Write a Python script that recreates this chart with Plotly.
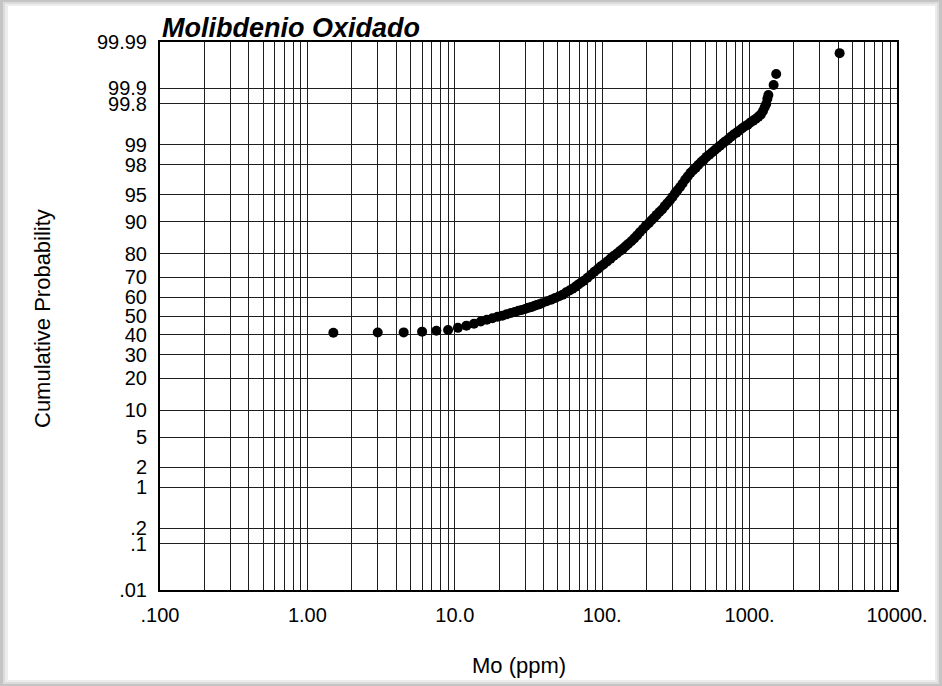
import plotly.graph_objects as go
from statistics import NormalDist

# Molybdenum (oxide) assays, ppm, and cumulative probability (%) of each value
mo_ppm = [
    1.5, 3, 4.5, 6, 7.5, 9, 10.5, 12, 13.5, 15, 16.5, 18, 19.5, 21, 22.5, 24,
    25.5, 27, 28.5, 30, 31.5, 33, 34.5, 36, 37.5, 39, 42, 45, 48, 51, 54, 57,
    60, 63, 66, 69, 72, 75, 79.5, 84, 88.5, 93, 97.5, 102, 108, 114, 120, 126,
    132, 138, 144, 150, 157.5, 165, 172.5, 180, 189, 198, 207, 216, 225, 234,
    244.5, 255, 265.5, 276, 288, 300, 312, 324, 337.5, 351, 366, 381, 397.5,
    414, 432, 450, 469.5, 489, 510, 532.5, 555, 579, 603, 630, 657, 684, 715.5,
    747, 780, 816, 852, 891, 930, 972, 1014, 1059, 1104, 1149, 1194, 1233,
    1266, 1296, 1320, 1341, 1455, 1515, 4080,
]
cum_prob_pct = [
    41.0, 41.1, 41.2, 41.6, 42.1, 42.5, 43.6, 44.8, 45.8, 47.0, 48.0, 48.8,
    49.6, 50.2, 51.0, 51.6, 52.2, 52.8, 53.3, 53.8, 54.4, 54.8, 55.4, 56.0,
    56.4, 56.9, 57.9, 58.7, 59.7, 60.6, 61.4, 62.6, 63.5, 64.4, 65.5, 66.6,
    67.5, 68.4, 69.8, 71.2, 72.6, 73.7, 74.9, 75.8, 77.0, 78.2, 79.3, 80.2,
    81.1, 81.9, 82.8, 83.6, 84.5, 85.4, 86.3, 87.2, 88.1, 89.0, 89.6, 90.3,
    90.9, 91.5, 92.1, 92.6, 93.2, 93.7, 94.2, 94.7, 95.2, 95.6, 96.0, 96.4,
    96.8, 97.1, 97.4, 97.6, 97.8, 98.0, 98.17, 98.30, 98.46, 98.57, 98.68,
    98.78, 98.87, 98.96, 99.04, 99.11, 99.18, 99.25, 99.31, 99.36, 99.41,
    99.46, 99.50, 99.53, 99.57, 99.60, 99.63, 99.66, 99.69, 99.73, 99.77,
    99.80, 99.84, 99.865, 99.914, 99.949, 99.982,
]

prob_ticks_pct = [0.01, 0.1, 0.2, 1, 2, 5, 10, 20, 30, 40, 50, 60, 70, 80,
                  90, 95, 98, 99, 99.8, 99.9, 99.99]
prob_tick_text = [".01", ".1", ".2", "1", "2", "5", "10", "20", "30", "40",
                  "50", "60", "70", "80", "90", "95", "98", "99", "99.8",
                  "99.9", "99.99"]
mo_ticks = [0.1, 1, 10, 100, 1000, 10000]
mo_tick_text = [".100", "1.00", "10.0", "100.", "1000.", "10000."]

# probability axis: normal quantiles
nd = NormalDist()
z_points = [nd.inv_cdf(p / 100.0) for p in cum_prob_pct]
z_ticks = [nd.inv_cdf(p / 100.0) for p in prob_ticks_pct]
z_range = [nd.inv_cdf(0.0001), nd.inv_cdf(0.9999)]

minor_vals = [m * 10.0 ** e for e in range(-1, 4) for m in range(2, 10)]

FONT = "Liberation Sans, Arial, Helvetica, sans-serif"
W, H = 942, 686
ML, MR, MT, MB = 160, 45, 42, 96
PW, PH = W - ML - MR, H - MT - MB


def px_x(x):
    return (x - ML) / PW


def px_y(y):
    return (H - MB - y) / PH


fig = go.Figure()
fig.add_trace(go.Scatter(
    x=mo_ppm, y=z_points, mode="markers",
    marker=dict(color="black", size=10, line=dict(width=0)),
    showlegend=False, hoverinfo="x+text",
    text=[f"{p}%" for p in cum_prob_pct],
))

grid_color = "#1e1e1e"
fig.update_xaxes(
    type="log", range=[-1, 4],
    tickvals=mo_ticks, ticktext=mo_tick_text,
    showgrid=True, gridcolor=grid_color, gridwidth=1.2,
    minor=dict(tickvals=minor_vals, showgrid=True, gridcolor=grid_color,
               gridwidth=1.2, ticks=""),
    ticks="", ticklabelstandoff=6,
    showline=True, linecolor="black", linewidth=2, mirror=True,
    zeroline=False,
    tickfont=dict(family=FONT, size=20, color="black"),
)
fig.update_yaxes(
    range=z_range,
    tickvals=z_ticks, ticktext=prob_tick_text,
    showgrid=True, gridcolor=grid_color, gridwidth=1.2,
    ticks="", ticklabelstandoff=7,
    showline=True, linecolor="black", linewidth=2, mirror=True,
    zeroline=False,
    tickfont=dict(family=FONT, size=20, color="black"),
)

# page frame with a soft grey edge
frame = [
    ((0, 0, W, H), "#c4c4c4"),
    ((3, 2, W - 3, H - 2), "#dcdcdc"),
    ((5, 4, W - 5, H - 4), "#ededed"),
    ((8, 6, W - 7, H - 6), "white"),
]
shapes = []
for (x0, y0, x1, y1), col in frame:
    shapes.append(dict(type="rect", xref="paper", yref="paper",
                       x0=px_x(x0), x1=px_x(x1), y0=px_y(y1), y1=px_y(y0),
                       fillcolor=col, line=dict(width=0), layer="below"))

annotations = [
    dict(text="<b><i>Molibdenio Oxidado</i></b>", xref="paper", yref="paper",
         x=px_x(160), y=px_y(45), xanchor="left", yanchor="bottom",
         showarrow=False, font=dict(family=FONT, size=27, color="black")),
    dict(text="Mo (ppm)", xref="paper", yref="paper",
         x=px_x(519), y=px_y(665), xanchor="center", yanchor="middle",
         showarrow=False, font=dict(family=FONT, size=22, color="black")),
    dict(text="Cumulative Probability", xref="paper", yref="paper",
         x=px_x(42), y=px_y(319), xanchor="center", yanchor="middle",
         textangle=-90, showarrow=False,
         font=dict(family=FONT, size=22, color="black")),
]

fig.update_layout(
    width=W, height=H,
    margin=dict(l=ML, r=MR, t=MT, b=MB, pad=0),
    paper_bgcolor="white", plot_bgcolor="white",
    shapes=shapes, annotations=annotations,
    font=dict(family=FONT, color="black"),
)

fig.write_html("out.html")
